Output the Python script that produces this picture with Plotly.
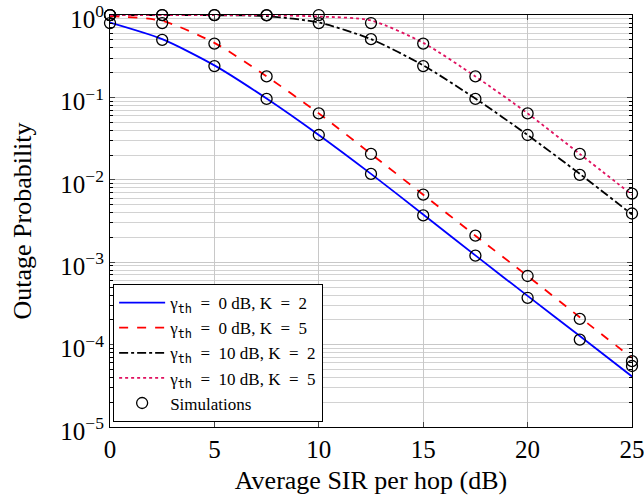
import plotly.graph_objects as go

# x positions (dB)
x_line = [0, 2.5, 5, 7.5, 10, 12.5, 15, 17.5, 20, 22.5, 25]
x_sim = [0, 2.5, 5, 7.5, 10, 12.5, 15, 17.5, 20, 22.5, 25]

# analytical curves
y_g0_k2 = [0.81, 0.51, 0.245, 0.097, 0.035, 0.0118, 0.0038, 0.00121, 0.00039, 0.000127, 4.1e-5]
y_g0_k5 = [0.97, 0.85, 0.46, 0.18, 0.064, 0.0206, 0.0066, 0.0021, 0.00068, 0.000215, 6.9e-5]
y_g10_k2 = [1.0, 0.999, 0.995, 0.97, 0.81, 0.51, 0.245, 0.097, 0.035, 0.0118, 0.0038]
y_g10_k5 = [1.0, 1.0, 0.999, 0.995, 0.96, 0.86, 0.46, 0.18, 0.064, 0.0206, 0.0066]

# simulation points
sim_g0_k2 = [0.8, 0.5, 0.24, 0.096, 0.035, 0.0118, 0.0037, 0.0012, 0.00037, 0.000115, 5.5e-5]
sim_g0_k5 = [1.0, 0.8, 0.45, 0.18, 0.064, 0.0206, 0.0066, 0.0021, 0.00068, 0.000205, 6.3e-5]
sim_g10_k2 = [1.0, 1.0, 1.0, 0.99, 0.8, 0.51, 0.24, 0.096, 0.035, 0.0115, 0.0039]
sim_g10_k5 = [1.0, 1.0, 1.0, 1.0, 1.0, 0.8, 0.45, 0.18, 0.064, 0.0206, 0.0068]

TH = "<sub><span style=\"font-family:'DejaVu Sans Mono'\">th</span></sub>"
EQ = "\u2002=\u2002"
legend_names = [
    "γ" + TH + EQ + "0 dB, K" + EQ + "2",
    "γ" + TH + EQ + "0 dB, K" + EQ + "5",
    "γ" + TH + EQ + "10 dB, K" + EQ + "2",
    "γ" + TH + EQ + "10 dB, K" + EQ + "5",
    "Simulations",
]

y_tickvals = [1e-5, 1e-4, 1e-3, 1e-2, 1e-1, 1]
y_ticktext = ["10<sup>−5</sup>", "10<sup>−4</sup>", "10<sup>−3</sup>",
              "10<sup>−2</sup>", "10<sup>−1</sup>", "10<sup>0</sup>"]
x_tickvals = [0, 5, 10, 15, 20, 25]

minor_vals = [m * 10 ** e for e in range(-5, 0) for m in range(2, 10)]

fig = go.Figure()
styles = [
    (y_g0_k2, "#0000ff", "solid"),
    (y_g0_k5, "#ff0000", "dash"),
    (y_g10_k2, "#000000", "dashdot"),
    (y_g10_k5, "#e0115f", "dot"),
]
for (ys, col, dash), name in zip(styles, legend_names[:4]):
    fig.add_trace(go.Scatter(
        x=x_line, y=ys, mode="lines", name=name,
        line=dict(color=col, width=1.8, dash=dash, shape="spline", smoothing=0.7),
    ))

sims = [sim_g0_k2, sim_g0_k5, sim_g10_k2, sim_g10_k5]
for i, s in enumerate(sims):
    fig.add_trace(go.Scatter(
        x=x_sim, y=s, mode="markers", name=legend_names[4],
        showlegend=(i == 0), legendgroup="sim", cliponaxis=False,
        marker=dict(symbol="circle-open", size=11, color="black", line=dict(width=1.3)),
    ))

font_family = "Liberation Serif, Times New Roman, serif"
fig.update_layout(
    width=644, height=495,
    margin=dict(l=110, r=12, t=15, b=68),
    paper_bgcolor="white", plot_bgcolor="white",
    font=dict(family=font_family, size=22, color="black"),
    showlegend=True,
    legend=dict(
        x=0.006, y=0.012, xanchor="left", yanchor="bottom",
        bgcolor="white", bordercolor="black", borderwidth=1,
        font=dict(size=17, family=font_family),
        itemwidth=46, tracegroupgap=0,
    ),
    xaxis=dict(
        range=[0, 25], tickvals=x_tickvals, ticks="inside", ticklen=5,
        showline=True, linecolor="black", linewidth=1.2, mirror="ticks",
        showgrid=True, gridcolor="#c8c8c8", gridwidth=1, zeroline=False,
        title=dict(text="Average SIR per hop (dB)", font=dict(size=26), standoff=10),
        tickfont=dict(size=25), ticklabeloverflow="allow", automargin=False,
    ),
    yaxis=dict(
        type="log", range=[-5, 0.0005], tickvals=y_tickvals, ticktext=y_ticktext,
        ticks="inside", ticklen=5,
        showline=True, linecolor="black", linewidth=1.2, mirror="ticks",
        showgrid=True, gridcolor="#c8c8c8", gridwidth=1, zeroline=False,
        minor=dict(tickmode="array", tickvals=minor_vals, ticks="inside", ticklen=3,
                   showgrid=True, gridcolor="#d2d2d2", gridwidth=1, tickcolor="black"),
        title=dict(text="Outage Probability", font=dict(size=26), standoff=21),
        tickfont=dict(size=25), ticklabeloverflow="allow", automargin=False,
        ticklabelshift=4,
    ),
)

fig.write_html("out.html", config={"displayModeBar": False},
               post_script="document.body.style.margin='0';document.body.style.overflow='hidden';")
